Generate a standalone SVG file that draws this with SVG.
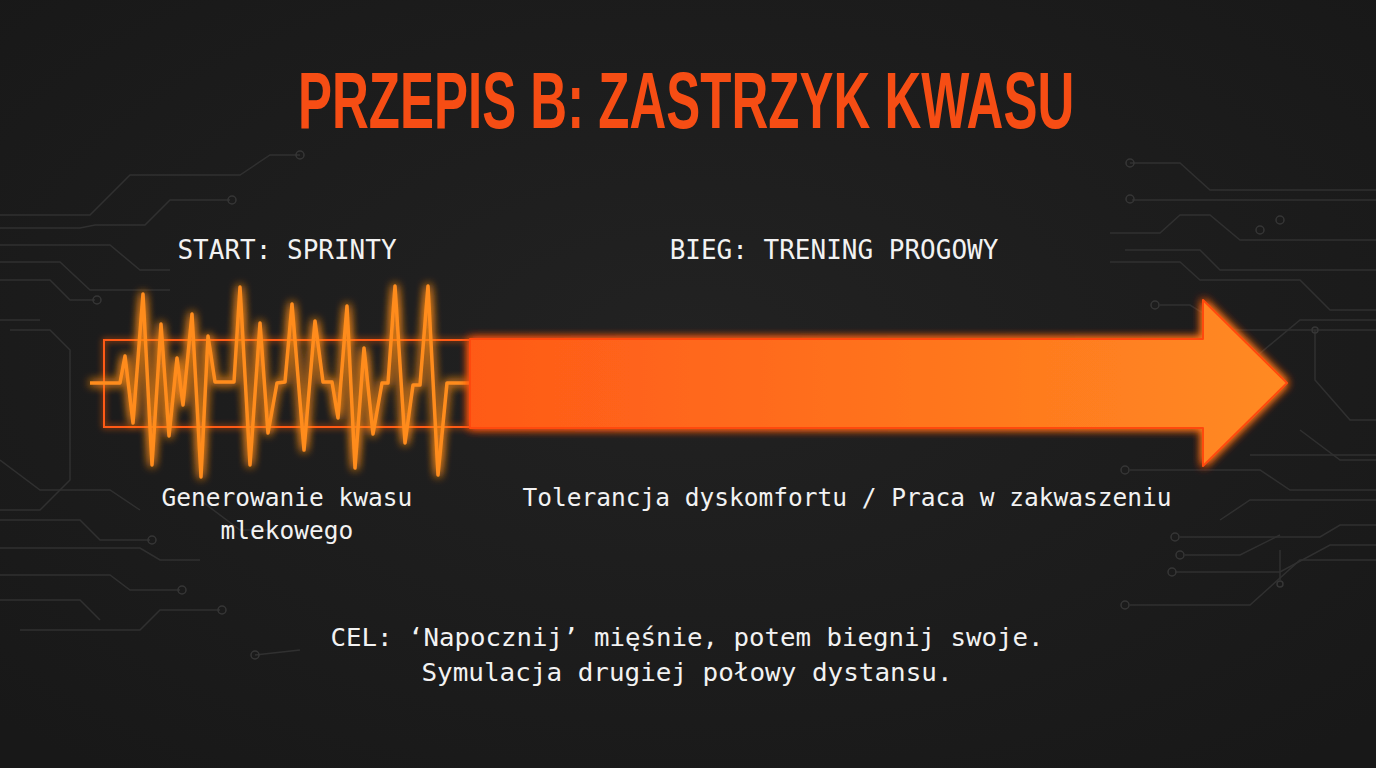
<svg xmlns="http://www.w3.org/2000/svg" width="1376" height="768" viewBox="0 0 1376 768">
<defs>
<radialGradient id="bg" cx="50%" cy="45%" r="70%">
<stop offset="0" stop-color="#222222"/>
<stop offset="1" stop-color="#181818"/>
</radialGradient>
<linearGradient id="arrowFill" x1="470" y1="0" x2="1287" y2="0" gradientUnits="userSpaceOnUse">
<stop offset="0" stop-color="#ff5a18"/>
<stop offset="1" stop-color="#ff8a22"/>
</linearGradient>
<filter id="glow" x="-20%" y="-40%" width="140%" height="180%">
<feGaussianBlur in="SourceGraphic" stdDeviation="5" result="b"/>
<feMerge><feMergeNode in="b"/><feMergeNode in="b"/><feMergeNode in="SourceGraphic"/></feMerge>
</filter>
<filter id="glowSoft" x="-20%" y="-40%" width="140%" height="180%">
<feGaussianBlur in="SourceGraphic" stdDeviation="3" result="b"/>
<feMerge><feMergeNode in="b"/><feMergeNode in="SourceGraphic"/></feMerge>
</filter>
<style>
.trace{fill:none;stroke:#303030;stroke-width:1.5}
.pad{fill:none;stroke:#363636;stroke-width:1.5}
.label{font-family:"DejaVu Sans Mono","Liberation Mono",monospace;fill:#f2f2f2}
.title{font-family:"Liberation Sans","DejaVu Sans",sans-serif;font-weight:bold;fill:#f64d14}
</style>
</defs>
<rect width="1376" height="768" fill="url(#bg)"/>
<g id="circuit-bg">
<path class="trace" d="M0,215 H90 L130,175 H240 L270,155 H300"/>
<circle class="pad" cx="300" cy="155" r="4"/>
<path class="trace" d="M0,228 H80 L95,225 H145 L170,200 H230"/>
<circle class="pad" cx="232" cy="200" r="4"/>
<path class="trace" d="M0,245 H110 L140,270 H170"/>
<path class="trace" d="M0,262 H60 L90,290 H170"/>
<path class="trace" d="M0,280 H50 L70,300 H95"/>
<circle class="pad" cx="97" cy="300" r="4"/>
<path class="trace" d="M0,320 H40"/>
<path class="trace" d="M10,330 H50 L70,350 V480 L40,510 H0"/>
<path class="trace" d="M0,460 L40,490 H110 L140,510"/>
<path class="trace" d="M0,520 H80 L100,540 H150"/>
<circle class="pad" cx="152" cy="540" r="4"/>
<path class="trace" d="M0,548 H140 L160,560 H200"/>
<path class="trace" d="M0,575 H110 L130,590 H180"/>
<circle class="pad" cx="182" cy="590" r="4"/>
<path class="trace" d="M0,600 H80 L100,620"/>
<path class="trace" d="M20,630 H140 L160,610 H220"/>
<circle class="pad" cx="222" cy="610" r="4"/>
<path class="trace" d="M200,500 L240,530 H270"/>
<path class="trace" d="M300,650 L255,655"/>
<circle class="pad" cx="255" cy="655" r="4"/>
<path class="trace" d="M1130,163 H1180 L1210,190 H1376"/>
<circle class="pad" cx="1130" cy="163" r="4"/>
<path class="trace" d="M1132,200 H1376"/>
<circle class="pad" cx="1130" cy="199" r="4"/>
<path class="trace" d="M1110,233 H1160 L1180,215 H1210 L1240,240 H1376"/>
<circle class="pad" cx="1280" cy="220" r="4"/>
<path class="trace" d="M1125,250 H1200 L1220,270 H1376"/>
<circle class="pad" cx="1260" cy="230" r="4"/>
<path class="trace" d="M1110,262 H1180 L1200,280 H1300 L1330,310 H1376"/>
<path class="trace" d="M1160,305 H1190 L1230,330 H1376"/>
<circle class="pad" cx="1155" cy="305" r="4"/>
<path class="trace" d="M1240,370 L1300,320 H1376"/>
<path class="trace" d="M1315,330 V380 L1350,420 H1376"/>
<circle class="pad" cx="1315" cy="330" r="3"/>
<path class="trace" d="M1300,430 L1340,460 H1376"/>
<path class="trace" d="M1250,455 H1376"/>
<path class="trace" d="M1130,470 H1260 L1290,490 H1376"/>
<circle class="pad" cx="1125" cy="470" r="4"/>
<path class="trace" d="M1220,520 L1250,500 H1376"/>
<path class="trace" d="M1180,537 H1320 L1340,525 H1376"/>
<circle class="pad" cx="1175" cy="537" r="4"/>
<path class="trace" d="M1185,555 H1240 L1280,535"/>
<circle class="pad" cx="1180" cy="555" r="4"/>
<path class="trace" d="M1280,550 V580"/>
<circle class="pad" cx="1280" cy="584" r="3"/>
<path class="trace" d="M1175,572 H1280 L1330,545 H1376"/>
<circle class="pad" cx="1172" cy="572" r="4"/>
<path class="trace" d="M1130,605 H1250 L1300,560 H1376"/>
<circle class="pad" cx="1125" cy="605" r="4"/>
</g>
<text id="title" class="title" transform="translate(298,128) scale(0.6375,1)" x="0" y="0" font-size="80">PRZEPIS B: ZASTRZYK KWASU</text>
<g id="start-node">
<text class="label" x="287" y="259" font-size="26" text-anchor="middle">START: SPRINTY</text>
<rect x="104" y="340" width="366" height="87" fill="none" stroke="#ff5a14" stroke-width="2" filter="url(#glowSoft)"/>
<polyline fill="none" stroke="#ff8c1e" stroke-width="3.5" stroke-linejoin="round" filter="url(#glow)" points="90,383 120,383 125,356 133,423 143,294 152,465 161,324 169,436 177,358 183,405 192,314 201,477 208,336 215,382 234,382 240,287 250,465 260,323 268,433 277,383 285,382 292,304 304,450 315,321 323,382 332,382 338,418 347,306 355,468 364,348 373,434 382,383 388,383 395,286 405,443 413,385 420,385 428,286 438,475 447,383 470,383"/>
<text class="label" x="287" y="506" font-size="24.5" text-anchor="middle">Generowanie kwasu</text>
<text class="label" x="287" y="539" font-size="24.5" text-anchor="middle">mlekowego</text>
</g>
<g id="run-node">
<text class="label" x="834" y="259" font-size="26" text-anchor="middle">BIEG: TRENING PROGOWY</text>
<polygon points="470,339 1203,339 1203,300 1287,383 1203,466 1203,428 470,428" fill="url(#arrowFill)" stroke="#ff4a10" stroke-width="2" stroke-linejoin="round" filter="url(#glow)"/>
<text class="label" x="847" y="506" font-size="24.5" text-anchor="middle">Tolerancja dyskomfortu / Praca w zakwaszeniu</text>
</g>
<g id="goal">
<text class="label" x="687" y="646" font-size="25" text-anchor="middle" textLength="713" lengthAdjust="spacingAndGlyphs">CEL: ‘Napocznij’ mięśnie, potem biegnij swoje.</text>
<text class="label" x="687" y="681" font-size="25" text-anchor="middle" textLength="531" lengthAdjust="spacingAndGlyphs">Symulacja drugiej połowy dystansu.</text>
</g>
<g id="connectors"></g>
</svg>
